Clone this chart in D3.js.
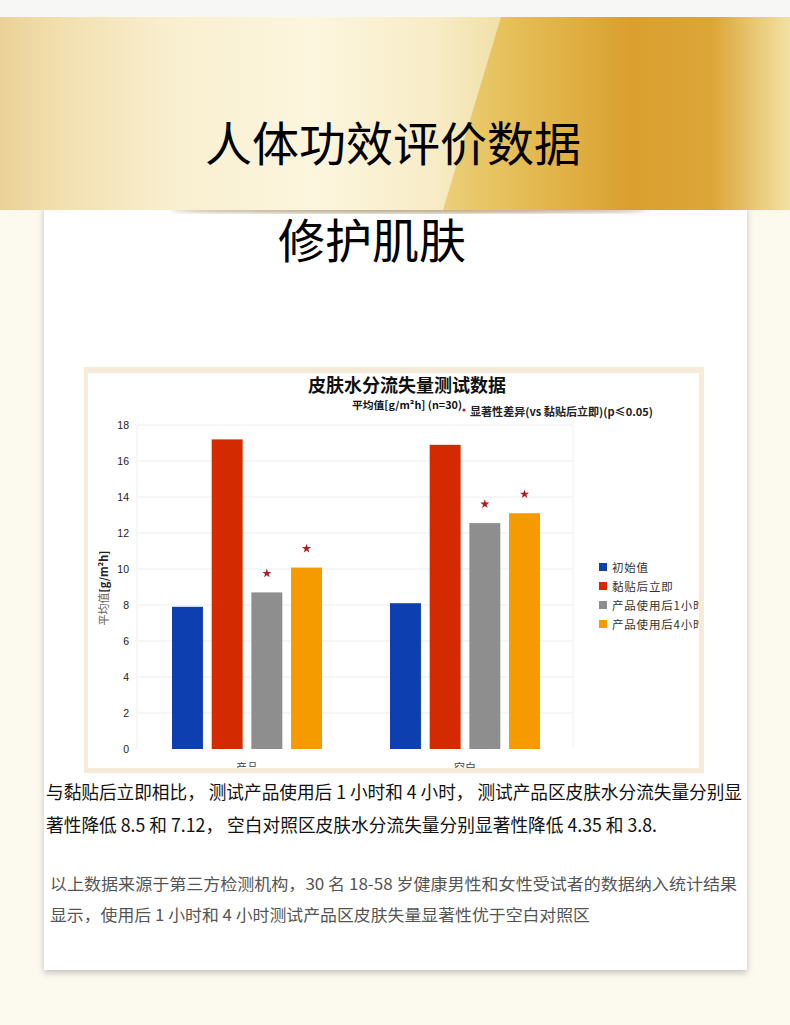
<!DOCTYPE html>
<html>
<head>
<meta charset="utf-8">
<script src="https://cdn.jsdelivr.net/npm/d3@7"></script>
<style>
  html, body { margin: 0; padding: 0; background: #fcf9ef; }
  svg { display: block; font-family: "Noto Sans CJK SC", "Noto Sans", sans-serif; }
</style>
</head>
<body>
<svg id="page" width="790" height="1025"></svg>
<script>
// DATA
var groups = ['产品', '空白'];
var series = ['初始值', '黏贴后立即', '产品使用后1小时', '产品使用后4小时'];
var productValues = [7.9, 17.2, 8.7, 10.08];
var blankValues = [8.1, 16.9, 12.55, 13.1];
var significant = [false, false, true, true];
var yTicks = [0, 2, 4, 6, 8, 10, 12, 14, 16, 18];
var colors = ['#0e3fb0', '#d42a02', '#8e8e8e', '#f59b00'];

var rows = [
  { group: groups[0], values: productValues },
  { group: groups[1], values: blankValues }
];

var svg = d3.select('#page');
var defs = svg.append('defs');

// banner gradients (userSpace so both pieces share one x axis)
var gl = defs.append('linearGradient').attr('id', 'goldLeft')
  .attr('gradientUnits', 'userSpaceOnUse').attr('x1', 0).attr('x2', 790).attr('y1', 0).attr('y2', 0);
[['0%', '#ebd197'], ['8%', '#f2e0b0'], ['22%', '#f9efd0'], ['40%', '#fcf6de'], ['55%', '#f8ecc6'], ['64%', '#f1dfa8']]
  .forEach(s => gl.append('stop').attr('offset', s[0]).attr('stop-color', s[1]));
var gr = defs.append('linearGradient').attr('id', 'goldRight')
  .attr('gradientUnits', 'userSpaceOnUse').attr('x1', 440).attr('x2', 790).attr('y1', 0).attr('y2', 0);
[['0%', '#ecd07a'], ['25%', '#e4bb52'], ['55%', '#da9f2f'], ['78%', '#dca638'], ['90%', '#e9c874'], ['100%', '#f3e2a2']]
  .forEach(s => gr.append('stop').attr('offset', s[0]).attr('stop-color', s[1]));

var sh = defs.append('filter').attr('id', 'shadow')
  .attr('x', '-5%').attr('y', '-5%').attr('width', '110%').attr('height', '110%');
sh.append('feDropShadow').attr('dx', 0).attr('dy', 3).attr('stdDeviation', 3)
  .attr('flood-color', '#000').attr('flood-opacity', 0.22);
defs.append('filter').attr('id', 'blur')
  .append('feGaussianBlur').attr('stdDeviation', 2);

svg.append('rect').attr('width', 790).attr('height', 1025).attr('fill', '#fcf9ef');
svg.append('rect').attr('width', 790).attr('height', 17).attr('fill', '#f7f7f6');

// card
svg.append('rect')
  .attr('x', 44).attr('y', 205).attr('width', 703).attr('height', 765)
  .attr('fill', '#ffffff').attr('filter', 'url(#shadow)');

// banner shadow under the bottom edge
svg.append('ellipse').attr('cx', 410).attr('cy', 210).attr('rx', 240).attr('ry', 3)
  .attr('fill', '#7a5a20').attr('opacity', 0.55).attr('filter', 'url(#blur)');

// banner
svg.append('rect').attr('x', 0).attr('y', 17).attr('width', 790).attr('height', 193)
  .attr('fill', 'url(#goldLeft)');
svg.append('path')
  .attr('d', 'M501,17 L790,17 L790,210 L443,210 Z')
  .attr('fill', 'url(#goldRight)');

svg.append('text')
  .attr('x', 393).attr('y', 161)
  .attr('text-anchor', 'middle')
  .attr('font-size', 47)
  .attr('fill', '#000')
  .text('人体功效评价数据');

svg.append('text')
  .attr('x', 372).attr('y', 258)
  .attr('text-anchor', 'middle')
  .attr('font-size', 47)
  .attr('fill', '#000')
  .text('修护肌肤');

// chart frame
svg.append('rect').attr('x', 84).attr('y', 367).attr('width', 620).attr('height', 406)
  .attr('fill', '#f6ead9');
svg.append('rect').attr('x', 88).attr('y', 373).attr('width', 611).attr('height', 395)
  .attr('fill', '#ffffff');
defs.append('clipPath').attr('id', 'inner')
  .append('rect').attr('x', 88).attr('y', 373).attr('width', 611).attr('height', 395);

var chart = svg.append('g').attr('clip-path', 'url(#inner)');

var x0 = d3.scaleBand().domain(groups).range([137, 573]);
var x1 = d3.scaleBand().domain(series).range([35, 185]).paddingInner(0.22);
var y = d3.scaleLinear().domain([0, 18]).range([749, 425]);

// gridlines
chart.append('g').selectAll('line')
  .data(yTicks.slice(1))
  .join('line')
  .attr('x1', 137).attr('x2', 573)
  .attr('y1', d => y(d)).attr('y2', d => y(d))
  .attr('stroke', '#ececec').attr('stroke-width', 1);
chart.append('line').attr('x1', 137).attr('x2', 137).attr('y1', 425).attr('y2', 749)
  .attr('stroke', '#eeeeee');
chart.append('line').attr('x1', 573).attr('x2', 573).attr('y1', 425).attr('y2', 749)
  .attr('stroke', '#f2f2f2');

// y axis
var yAxis = chart.append('g')
  .attr('transform', 'translate(129,0)')
  .call(d3.axisLeft(y).tickValues(yTicks).tickSize(0).tickPadding(0));
yAxis.select('.domain').remove();
yAxis.selectAll('text')
  .attr('font-size', 10.5).attr('fill', '#222')
  .attr('font-family', '"Liberation Sans", Arial, sans-serif');

chart.append('text')
  .attr('transform', 'translate(108,588) rotate(-90)')
  .attr('text-anchor', 'middle')
  .attr('font-size', 11)
  .call(t => {
    t.append('tspan').attr('fill', '#666').text('平均值');
    t.append('tspan').attr('fill', '#222').attr('font-weight', 'bold').text('[g/m²h]');
  });

// bars
var gs = chart.append('g').selectAll('g')
  .data(rows)
  .join('g')
  .attr('transform', d => 'translate(' + x0(d.group) + ',0)');

gs.selectAll('rect')
  .data(d => d.values.map((v, i) => ({ key: series[i], value: v, i: i })))
  .join('rect')
  .attr('x', d => x1(d.key))
  .attr('y', d => y(d.value))
  .attr('width', x1.bandwidth())
  .attr('height', d => y(0) - y(d.value))
  .attr('fill', d => colors[d.i]);

// significance marks
gs.selectAll('path.sig')
  .data(d => d.values.map((v, i) => ({ key: series[i], value: v, i: i }))
    .filter(d => significant[d.i]))
  .join('path')
  .attr('class', 'sig')
  .attr('d', d3.symbol(d3.symbolStar, 26))
  .attr('transform', d => 'translate(' + (x1(d.key) + x1.bandwidth() / 2) + ',' + (y(d.value) - 19) + ')')
  .attr('fill', '#b01a2a');

// x labels
chart.append('g').selectAll('text')
  .data(groups)
  .join('text')
  .attr('x', d => x0(d) + 110)
  .attr('y', 772)
  .attr('text-anchor', 'middle')
  .attr('font-size', 11)
  .attr('fill', '#444')
  .text(d => d);

// titles
chart.append('text')
  .attr('x', 407).attr('y', 392)
  .attr('text-anchor', 'middle')
  .attr('font-size', 18).attr('font-weight', 'bold')
  .attr('fill', '#111')
  .text('皮肤水分流失量测试数据');
chart.append('text')
  .attr('x', 352).attr('y', 409)
  .attr('font-size', 10.5).attr('font-weight', 'bold')
  .attr('fill', '#111')
  .attr('textLength', 110).attr('lengthAdjust', 'spacingAndGlyphs')
  .text('平均值[g/m²h] (n=30)');
chart.append('circle').attr('cx', 464).attr('cy', 410).attr('r', 1.6).attr('fill', '#c0182a');
chart.append('text')
  .attr('x', 470).attr('y', 416)
  .attr('font-size', 11).attr('font-weight', 'bold')
  .attr('fill', '#222')
  .attr('textLength', 183).attr('lengthAdjust', 'spacingAndGlyphs')
  .text('显著性差异(vs 黏贴后立即)(p≤0.05)');

// legend
var legend = chart.append('g').selectAll('g')
  .data(series)
  .join('g')
  .attr('transform', (d, i) => 'translate(599,' + (567 + i * 19) + ')');
legend.append('rect')
  .attr('x', 0).attr('y', -4).attr('width', 8).attr('height', 8)
  .attr('fill', (d, i) => colors[i]);
legend.append('text')
  .attr('x', 13).attr('y', 4.5)
  .attr('font-size', 11.5)
  .attr('letter-spacing', 0.8)
  .attr('fill', '#333')
  .text(d => d);

// description text
var lines = [
  { t: '与黏贴后立即相比， 测试产品使用后 1 小时和 4 小时， 测试产品区皮肤水分流失量分别显', x: 46, y: 799, w: 696, s: 18, c: '#111' },
  { t: '著性降低 8.5 和 7.12， 空白对照区皮肤水分流失量分别显著性降低 4.35 和 3.8.', x: 46, y: 832, w: 611, s: 18, c: '#111' },
  { t: '以上数据来源于第三方检测机构，30 名 18-58 岁健康男性和女性受试者的数据纳入统计结果', x: 50, y: 890, w: 687, s: 16, c: '#555' },
  { t: '显示，使用后 1 小时和 4 小时测试产品区皮肤失量显著性优于空白对照区', x: 50, y: 921, w: 540, s: 16, c: '#555' }
];
svg.append('g').selectAll('text')
  .data(lines)
  .join('text')
  .attr('x', d => d.x).attr('y', d => d.y)
  .attr('font-size', d => d.s)
  .attr('fill', d => d.c)
  .attr('textLength', d => d.w)
  .attr('lengthAdjust', 'spacingAndGlyphs')
  .text(d => d.t);
</script>
</body>
</html>
